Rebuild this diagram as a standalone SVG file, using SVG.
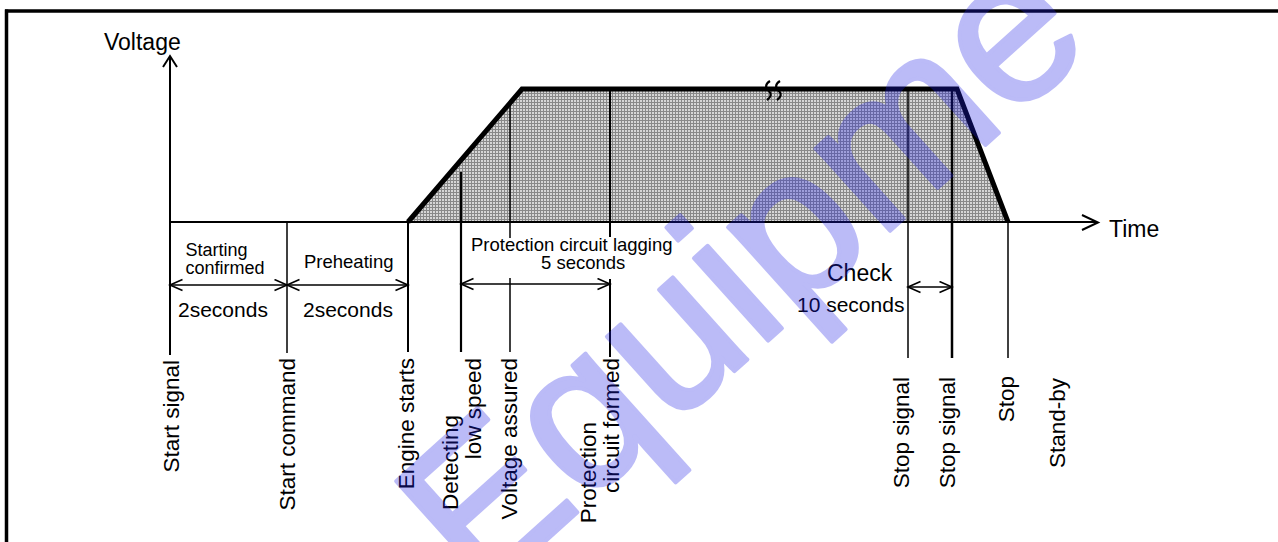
<svg xmlns="http://www.w3.org/2000/svg" width="1278" height="542" viewBox="0 0 1278 542">
<style>
text{font-family:"Liberation Sans",Arial,Helvetica,sans-serif;fill:#000}
.t23{font-size:23px}
.t21{font-size:21px}
.t19{font-size:18.5px}
.t18{font-size:18px}
.rot{font-size:22.5px;text-anchor:end}
.ln{stroke:#000;fill:none}
.dim{stroke:#000;stroke-width:1.6;fill:none;marker-start:url(#ah);marker-end:url(#ah)}
.wm{font-family:"Liberation Sans",Arial,sans-serif;font-size:210px;fill:#2020e8;stroke:#2020e8;stroke-width:4;stroke-linejoin:round}
</style>
<defs>
<pattern id="grid" width="3" height="3" patternUnits="userSpaceOnUse">
<rect width="3" height="3" fill="#d6d6d6"/>
<path d="M0,0.5H3M0.5,0V3" stroke="#888" stroke-width="1"/>
</pattern>
<marker id="ah" markerUnits="userSpaceOnUse" markerWidth="16" markerHeight="14" refX="14" refY="6.5" orient="auto-start-reverse">
<path d="M1.5,1 L14,6.5 L1.5,12" fill="none" stroke="#000" stroke-width="1.6"/>
</marker>
</defs>
<rect width="1278" height="542" fill="#fff"/>
<g id="frame">
<line x1="6.5" y1="9.5" x2="6.5" y2="542" class="ln" stroke-width="3.5"/>
<line x1="5" y1="11" x2="1278" y2="11" class="ln" stroke-width="3.5"/>
</g>
<g id="voltage-curve">
<polygon points="408,222 522,89 957,89 1008,222" fill="url(#grid)"/>
<polyline points="408,222 522,89 957,89 1008,222" class="ln" stroke-width="5" stroke-linejoin="miter"/>
<path d="M770,81 c-5,3 -5,7 -1,10 c3,3 2,6 -2,9 M780,81 c-5,3 -5,7 -1,10 c3,3 2,6 -2,9" class="ln" stroke-width="2.2"/>
</g>
<g id="axes">
<line x1="170" y1="57" x2="170" y2="222" class="ln" stroke-width="2"/>
<polyline points="163,67 170,56 177,67" class="ln" stroke-width="2"/>
<line x1="169" y1="222" x2="1097" y2="222" class="ln" stroke-width="2"/>
<polyline points="1082,215 1098,222.5 1082,230" class="ln" stroke-width="2"/>
<text class="t23" x="104" y="50">Voltage</text>
<text class="t23" x="1109" y="237">Time</text>
</g>
<g id="start-signal">
<line x1="170" y1="222" x2="170" y2="355" class="ln" stroke-width="2"/>
<text class="rot" transform="translate(179,360) rotate(-90)">Start signal</text>
</g>
<g id="start-command">
<line x1="287" y1="222" x2="287" y2="353" class="ln" stroke-width="1.5"/>
<text class="rot" transform="translate(295,358) rotate(-90)">Start command</text>
</g>
<g id="engine-starts">
<line x1="408" y1="222" x2="408" y2="352" class="ln" stroke-width="2"/>
<text class="rot" transform="translate(414,358) rotate(-90)">Engine starts</text>
</g>
<g id="detecting-low-speed">
<line x1="461" y1="172" x2="461" y2="352" class="ln" stroke-width="2.2"/>
<text class="rot" transform="translate(458,415) rotate(-90)">Detecting</text>
<text class="rot" transform="translate(481,358) rotate(-90)">low speed</text>
</g>
<g id="voltage-assured">
<line x1="510" y1="103" x2="510" y2="238" class="ln" stroke-width="1.5"/>
<line x1="510" y1="278" x2="510" y2="352" class="ln" stroke-width="1.5"/>
<text class="rot" transform="translate(517,358) rotate(-90)">Voltage assured</text>
</g>
<g id="protection-circuit-formed">
<line x1="610" y1="89" x2="610" y2="237" class="ln" stroke-width="2"/>
<line x1="610" y1="279" x2="610" y2="357" class="ln" stroke-width="2"/>
<text class="rot" transform="translate(596,422) rotate(-90)">Protection</text>
<text class="rot" transform="translate(619,358) rotate(-90)">circuit formed</text>
</g>
<g id="stop-signal-1">
<line x1="908" y1="89" x2="908" y2="358" class="ln" stroke-width="1.5"/>
<text class="rot" transform="translate(909,377) rotate(-90)">Stop signal</text>
</g>
<g id="stop-signal-2">
<line x1="952" y1="89" x2="952" y2="358" class="ln" stroke-width="2.5"/>
<text class="rot" transform="translate(955,377) rotate(-90)">Stop signal</text>
</g>
<g id="stop">
<line x1="1008" y1="222" x2="1008" y2="358" class="ln" stroke-width="1.5"/>
<text class="rot" transform="translate(1014,376) rotate(-90)">Stop</text>
</g>
<g id="stand-by">
<text class="rot" transform="translate(1065,378) rotate(-90)">Stand-by</text>
</g>
<g id="connectors">
<line x1="170" y1="285" x2="287" y2="285" class="dim"/>
<line x1="287" y1="285" x2="408" y2="285" class="dim"/>
<line x1="461" y1="284" x2="610" y2="284" class="dim"/>
<line x1="908" y1="287" x2="952" y2="287" class="dim"/>
</g>
<g id="interval-labels">
<text class="t18" x="185.5" y="256">Starting</text>
<text class="t18" x="185.5" y="274">confirmed</text>
<text class="t21" x="178" y="317">2seconds</text>
<text class="t19" x="304" y="268">Preheating</text>
<text class="t21" x="303" y="317">2seconds</text>
<text class="t19" x="471" y="251">Protection circuit lagging</text>
<text class="t19" x="541" y="269">5 seconds</text>
<text class="t23" x="827" y="281">Check</text>
<text class="t21" x="797" y="312">10 seconds</text>
</g>
<g id="watermark" opacity="0.3">
<text class="wm" transform="translate(480,600) rotate(-42)">Equipme</text>
</g>
</svg>
